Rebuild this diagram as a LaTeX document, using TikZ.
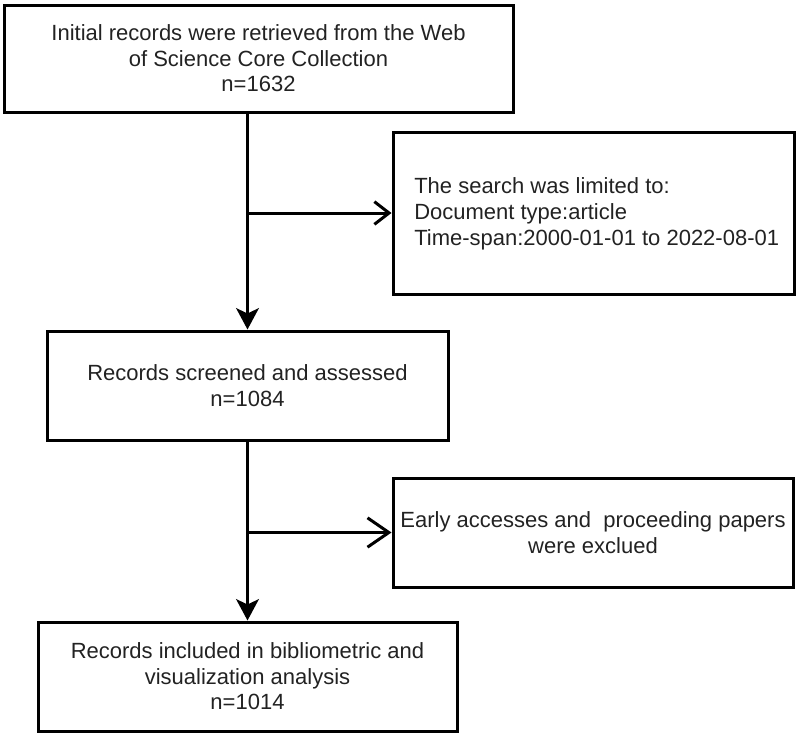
\documentclass[tikz,border=0pt]{standalone}
\usepackage{fontspec}
\setmainfont{Liberation Sans}
\usetikzlibrary{arrows.meta,calc}
\definecolor{inkgray}{HTML}{222222}
\tikzset{
  box/.style={draw=black, line width=2.25pt, rectangle, inner sep=0pt, align=center,
              text=inkgray, font=\fontsize{16.5}{19.1}\selectfont},
  txt/.style={inner sep=0pt, text=inkgray, font=\fontsize{16.5}{19.5}\selectfont},
  conn/.style={line width=2.25pt},
  downarrow/.style={conn, -{Stealth[length=16pt,width=17pt,inset=4pt]}},
  sidearrowA/.style={conn, -{Straight Barb[length=11pt,width=17pt]}},
  sidearrowB/.style={conn, -{Straight Barb[length=16pt,width=22pt]}},
}
\begin{document}
\begin{tikzpicture}[x=0.75pt,y=-0.75pt]
\useasboundingbox (0,0) rectangle (800,736);
\node[box, minimum width=509*0.75pt, minimum height=107*0.75pt] (b1) at (258.5,58.5)
  {Initial records were retrieved from the Web\\of Science Core Collection\\n=1632};
\node[box, minimum width=401*0.75pt, minimum height=162*0.75pt] (b2) at (593.5,213) {};
\node[txt, anchor=west, align=left] (t2) at (414,213.5)
  {The search was limited to:\\Document type:article\\Time-span:2000-01-01 to 2022-08-01};
\node[box, minimum width=401*0.75pt, minimum height=109*0.75pt] (b3) at (247.5,385.5)
  {Records screened and assessed\\n=1084};
\node[box, minimum width=400*0.75pt, minimum height=109*0.75pt] (b4) at (593,532.5)
  {Early accesses and\ \ proceeding papers\\were exclued};
\node[box, minimum width=419*0.75pt, minimum height=109*0.75pt] (b5) at (247.5,676.5)
  {Records included in bibliometric and\\visualization analysis\\n=1014};
\coordinate (j1) at (b3.north |- b2.west);
\coordinate (j2) at (b5.north |- b4.west);
\draw[downarrow] (b3.north |- b1.south) -- (b3.north);
\draw[sidearrowA] (j1) -- (b2.west);
\draw[downarrow] (b3.south) -- (b5.north);
\draw[sidearrowB] (j2) -- (b4.west);
\end{tikzpicture}
\end{document}
